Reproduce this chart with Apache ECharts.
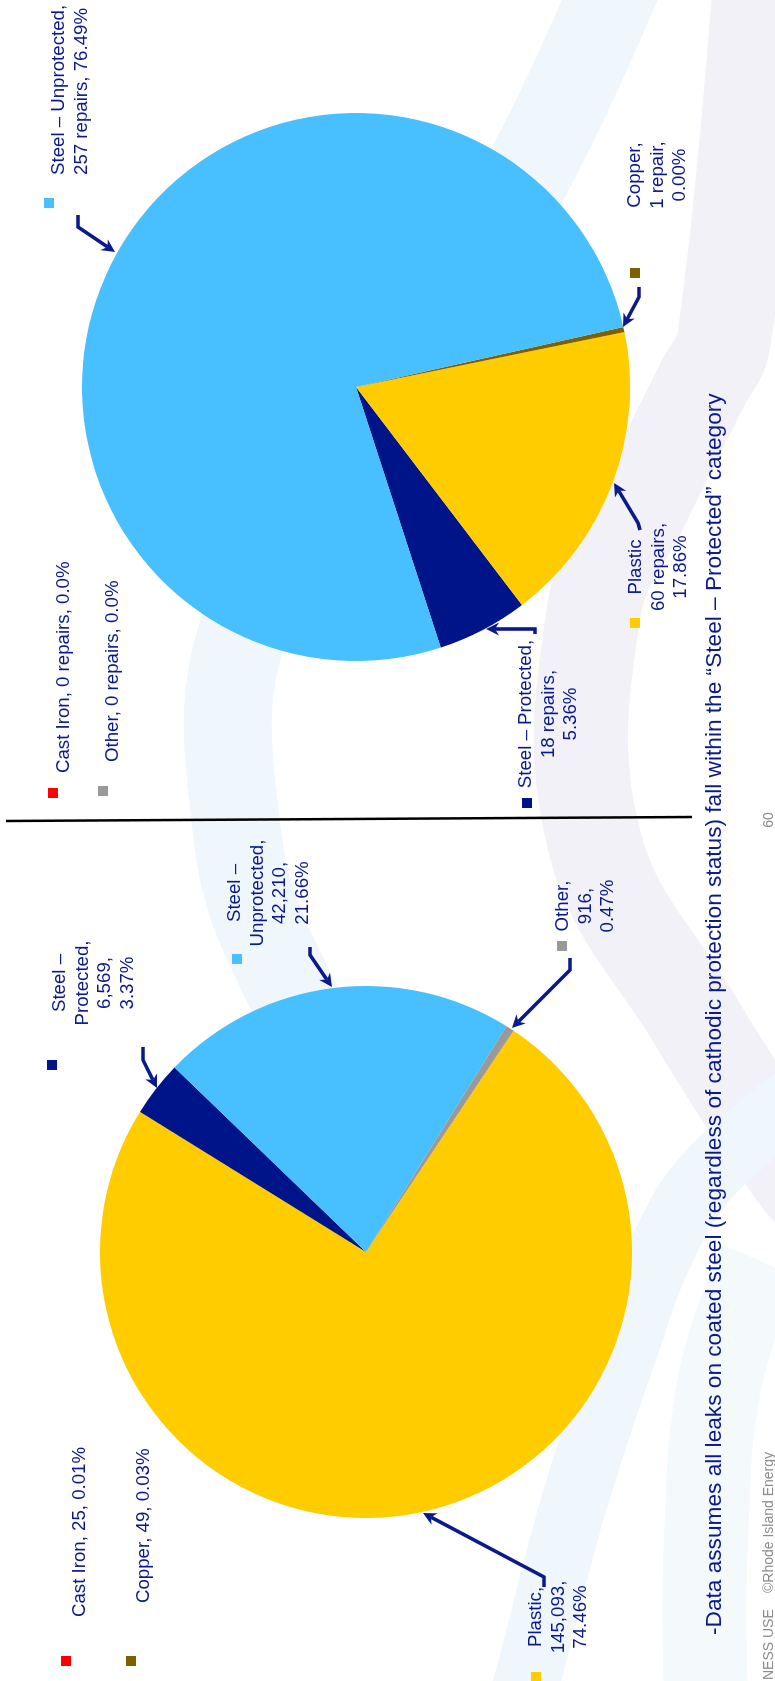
<!DOCTYPE html>
<html>
<head>
<meta charset="utf-8">
<title>Leaks and repairs by material</title>
<script src="https://cdn.jsdelivr.net/npm/echarts@6/dist/echarts.min.js"></script>
<style>
  html, body { margin: 0; padding: 0; width: 775px; height: 1681px; overflow: hidden; background: #ffffff; }
  /* The slide is laid out landscape and turned a quarter turn counter-clockwise */
  #slide {
    position: absolute; left: 0; top: 0;
    width: 1681px; height: 775px;
    transform-origin: 0 0;
    transform: translate(0, 1681px) rotate(-90deg);
  }
</style>
</head>
<body>
<div id="slide"></div>
<script>
// ---- Left chart: leaks by material ----
const leakCategories = ['Cast Iron', 'Copper', 'Plastic', 'Steel – Protected', 'Steel – Unprotected', 'Other'];
const leakCounts     = [25, 49, 145093, 6569, 42210, 916];
const leakPctLabels  = ['0.01%', '0.03%', '74.46%', '3.37%', '21.66%', '0.47%'];

// ---- Right chart: repairs by material ----
const repairCategories = ['Cast Iron', 'Other', 'Steel – Protected', 'Plastic', 'Copper', 'Steel – Unprotected'];
const repairCounts     = [0, 0, 18, 60, 1, 257];
const repairPctLabels  = ['0.0%', '0.0%', '5.36%', '17.86%', '0.00%', '76.49%'];

const footNote = '-Data assumes all leaks on coated steel (regardless of cathodic protection status) fall within the \u201cSteel \u2013 Protected\u201d category';
const footerLeft = 'NESS USE';
const footerRight = '\u00a9Rhode Island Energy';
const pageNumber = '60';

// ---- Styling ----
const categoryColors = {
  'Cast Iron': '#FF0000',
  'Copper': '#7F6000',
  'Plastic': '#FFCC00',
  'Steel – Protected': '#001489',
  'Steel – Unprotected': '#48BFFF',
  'Other': '#999999'
};
const navy = '#0A1A8C';
const fontFamily = '"Liberation Sans", Arial, sans-serif';
const labelFont = '18.67px ' + fontFamily;

// Callout placement (slide pixels), in the same order as the category arrays
const leakCallouts = [
  { tpl: '{n}, {v}, {p}', x: 64, y: 69, align: 'left', key: [15, 61] },
  { tpl: '{n}, {v}, {p}', x: 78, y: 133, align: 'left', key: [15, 126] },
  { tpl: '{n},\n{v},\n{p}', x: 64, y: 525, align: 'center', key: [-1, 531], arrow: [[94, 544], [104, 544], [168, 423]] },
  { tpl: '{n},\n{v},\n{p}', brk: true, x: 698, y: 49, align: 'center', key: [611, 47], arrow: [[634, 143], [621, 143], [593, 157]] },
  { tpl: '{n},\n{v},\n{p}', brk: true, x: 788, y: 224, align: 'center', key: [717, 232], arrow: [[734, 310], [726, 310], [694, 332]] },
  { tpl: '{n},\n{v},\n{p}', x: 775, y: 552, align: 'center', key: [730, 557], arrow: [[723, 570], [711, 570], [653, 512]] }
];
const repairCallouts = [
  { tpl: '{n}, {v}, {p}', x: 908, y: 53, align: 'left', key: [883, 48] },
  { tpl: '{n}, {v}, {p}', x: 919, y: 102, align: 'left', key: [885, 98] },
  { tpl: '{n},\n{v},\n{p}', x: 967, y: 515, align: 'center', key: [873, 522], arrow: [[1047, 535], [1052, 535], [1052, 486]] },
  { tpl: '{n}\n{v},\n{p}', x: 1114, y: 625, align: 'center', key: [1053, 630], arrow: [[1151, 640], [1158, 638], [1198, 614]] },
  { tpl: '{n},\n{v},\n{p}', x: 1506, y: 624, align: 'center', key: [1403, 630], arrow: [[1394, 639], [1384, 639], [1354, 623]] },
  { tpl: '{n},\n{v}, {p}', x: 1506, y: 48, align: 'left', key: [1473, 44], arrow: [[1466, 78], [1454, 78], [1429, 115]] }
];

// ---- Helpers ----
function fillTemplate(tpl, name, valueText, pct, brk) {
  const n = brk ? name.replace(' – ', ' –\n') : name;
  return tpl.replace('{n}', n).replace('{v}', valueText).replace('{p}', pct);
}

function arrowElements(pts) {
  const n = pts.length;
  const [x1, y1] = pts[n - 2];
  const [x2, y2] = pts[n - 1];
  const len = Math.hypot(x2 - x1, y2 - y1);
  const ux = (x2 - x1) / len, uy = (y2 - y1) / len;
  const headLen = 13, headW = 6.5;
  const bx = x2 - ux * headLen, by = y2 - uy * headLen;
  const shaft = pts.slice(0, n - 1).concat([[x2 - ux * headLen * 0.7, y2 - uy * headLen * 0.7]]);
  return [
    { type: 'polyline', z: 30, silent: true, shape: { points: shaft },
      style: { stroke: navy, lineWidth: 3.6, fill: null, lineJoin: 'miter', lineCap: 'butt' } },
    { type: 'polygon', z: 31, silent: true,
      shape: { points: [[x2, y2], [bx - uy * headW, by + ux * headW], [bx + ux * 4, by + uy * 4], [bx + uy * headW, by - ux * headW]] },
      style: { fill: navy } }
  ];
}

function calloutElements(categories, values, pcts, layout, valueFormatter) {
  const els = [];
  categories.forEach((name, i) => {
    const c = layout[i];
    els.push({
      type: 'rect', z: 30, silent: true,
      shape: { x: c.key[0], y: c.key[1], width: 10, height: 10 },
      style: { fill: categoryColors[name] }
    });
    els.push({
      type: 'text', z: 30, silent: true, x: c.x, y: c.y,
      style: {
        text: fillTemplate(c.tpl, name, valueFormatter(values[i]), pcts[i], c.brk),
        font: labelFont, fill: navy, lineHeight: 22.4,
        align: c.align, textAlign: c.align, verticalAlign: 'top', textVerticalAlign: 'top'
      }
    });
    if (c.arrow) els.push(...arrowElements(c.arrow));
  });
  return els;
}

function pieData(categories, values) {
  return categories.map((name, i) => ({ name: name, value: values[i], itemStyle: { color: categoryColors[name] } }));
}

function plainText(text, x, y, size, color, align) {
  return { type: 'text', z: 30, silent: true, x: x, y: y,
    style: { text: text, font: size + 'px ' + fontFamily, fill: color,
             align: align, textAlign: align, verticalAlign: 'top', textVerticalAlign: 'top' } };
}

// Soft decorative swooshes behind the slide content
const swooshes = [
  { color: '#F0F7FC', width: 88, pts: [[1700, 618], [1531, 540], [1281, 400], [1061, 247], [841, 238], [691, 290], [540, 380]] },
  { color: '#F1F1F7', width: 94, pts: [[1700, 760], [1341, 724], [1296, 702], [1181, 645], [1071, 594], [841, 594], [661, 695], [508, 795], [470, 830]] },
  { color: '#F0F7FC', width: 66, pts: [[600, 820], [508, 710], [431, 662], [341, 628], [181, 575], [0, 527], [-40, 515]] },
  { color: '#F4F9FC', width: 84, pts: [[420, 760], [300, 720], [141, 706], [-20, 706]] }
];
const swooshEls = swooshes.map(s => ({
  type: 'polyline', z: -5, silent: true,
  shape: { points: s.pts, smooth: 0.4 },
  style: { stroke: s.color, lineWidth: s.width, fill: null, lineCap: 'butt' }
}));

const chart = echarts.init(document.getElementById('slide'), null, { renderer: 'canvas', width: 1681, height: 775 });

const graphics = [].concat(
  swooshEls,
  calloutElements(leakCategories, leakCounts, leakPctLabels, leakCallouts, v => v.toLocaleString('en-US')),
  calloutElements(repairCategories, repairCounts, repairPctLabels, repairCallouts, v => v + (v === 1 ? ' repair' : ' repairs')),
  [
    // divider between the two charts
    { type: 'line', z: 30, silent: true, shape: { x1: 860, y1: 6, x2: 864, y2: 692 }, style: { stroke: '#000000', lineWidth: 2.5 } },
    plainText(footNote, 46, 703, 22.67, navy, 'left'),
    plainText(footerLeft, 1, 762, 14, '#8C8C8C', 'left'),
    plainText(footerRight, 88, 762, 14, '#8C8C8C', 'left'),
    plainText(pageNumber, 861, 762, 14, '#8C8C8C', 'center')
  ]
);

chart.setOption({
  animation: false,
  backgroundColor: '#ffffff',
  graphic: { elements: graphics },
  series: [
    {
      type: 'pie', name: 'Leaks', z: 5, silent: true,
      center: [429, 366], radius: 266,
      startAngle: 326.4, clockwise: true,
      avoidLabelOverlap: false,
      label: { show: false }, labelLine: { show: false },
      itemStyle: { borderWidth: 0 },
      emphasis: { disabled: true },
      data: pieData(leakCategories, leakCounts)
    },
    {
      type: 'pie', name: 'Repairs', z: 5, silent: true,
      center: [1294, 356], radius: 274,
      startAngle: 198, clockwise: false,
      avoidLabelOverlap: false,
      label: { show: false }, labelLine: { show: false },
      itemStyle: { borderWidth: 0 },
      emphasis: { disabled: true },
      data: pieData(repairCategories, repairCounts)
    }
  ]
});
</script>
</body>
</html>
